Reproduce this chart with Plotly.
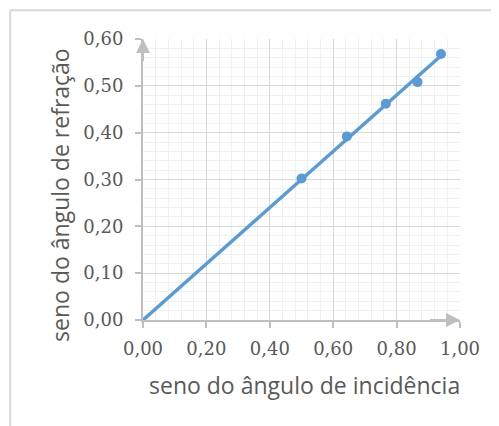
import numpy as np
import plotly.graph_objects as go

# Data
seno_incidencia = [0.500, 0.643, 0.766, 0.866, 0.940]
seno_refracao = [0.302, 0.392, 0.462, 0.508, 0.568]
x_title = "seno do ângulo de incidência"
y_title = "seno do ângulo de refração"

xs = np.array(seno_incidencia)
ys = np.array(seno_refracao)
slope = float((xs * ys).sum() / (xs * xs).sum())
trend_x = [0.0, float(xs.max())]
trend_y = [slope * v for v in trend_x]

blue = "#5b9bd5"
axis_grey = "#bfbfbf"
txt = "#595959"

fig = go.Figure()
fig.add_trace(go.Scatter(x=trend_x, y=trend_y, mode="lines",
                         line=dict(color=blue, width=3.5), hoverinfo="skip"))
fig.add_trace(go.Scatter(x=seno_incidencia, y=seno_refracao, mode="markers",
                         marker=dict(color=blue, size=10)))

tickfont = dict(family="DejaVu Serif", size=18, color=txt)
fig.update_xaxes(range=[0, 1.0], tick0=0, dtick=0.2, tickformat=".2f",
                 showline=True, linecolor=axis_grey, linewidth=2,
                 ticks="outside", ticklen=6, tickcolor=axis_grey, tickwidth=1.5,
                 showgrid=True, gridcolor="#d9d9d9", gridwidth=1,
                 minor=dict(dtick=0.04, showgrid=True, gridcolor="#f0f0f0", gridwidth=1),
                 zeroline=False, tickfont=tickfont, ticklabelstandoff=5)
fig.update_yaxes(range=[0, 0.6], tick0=0, dtick=0.1, tickformat=".2f",
                 showline=True, linecolor=axis_grey, linewidth=2,
                 ticks="outside", ticklen=6, tickcolor=axis_grey, tickwidth=1.5,
                 showgrid=True, gridcolor="#d9d9d9", gridwidth=1,
                 minor=dict(dtick=0.02, showgrid=True, gridcolor="#f0f0f0", gridwidth=1),
                 zeroline=False, tickfont=tickfont, ticklabelstandoff=8)

annotations = [
    dict(x=0, y=0.6, ax=0, ay=0.55, xref="x", yref="y", axref="x", ayref="y",
         text="", showarrow=True, arrowhead=2, arrowsize=1.4, arrowwidth=2,
         arrowcolor=axis_grey, standoff=0),
    dict(x=1.0, y=0, ax=0.9, ay=0, xref="x", yref="y", axref="x", ayref="y",
         text="", showarrow=True, arrowhead=2, arrowsize=1.4, arrowwidth=2,
         arrowcolor=axis_grey, standoff=0),
    dict(x=0.51, y=-0.232, xref="paper", yref="paper", text=x_title, showarrow=False,
         font=dict(family="Open Sans", size=23, color=txt), xanchor="center", yanchor="middle"),
    dict(x=-0.262, y=0.445, xref="paper", yref="paper", text=y_title, showarrow=False,
         textangle=-90, font=dict(family="Open Sans", size=23, color=txt),
         xanchor="center", yanchor="middle"),
]

shapes = [
    dict(type="line", xref="paper", yref="paper", x0=-0.419, x1=1.3, y0=1.1025, y1=1.1025,
         line=dict(color="#d9d9d9", width=2)),
    dict(type="line", xref="paper", yref="paper", x0=-0.419, x1=-0.419, y0=1.1025, y1=-0.5,
         line=dict(color="#d9d9d9", width=2)),
]

fig.update_layout(width=491, height=418, margin=dict(l=135, r=39, t=31, b=106),
                  paper_bgcolor="white", plot_bgcolor="white", showlegend=False,
                  separators=",.", annotations=annotations, shapes=shapes)

fig.write_html("out.html")
